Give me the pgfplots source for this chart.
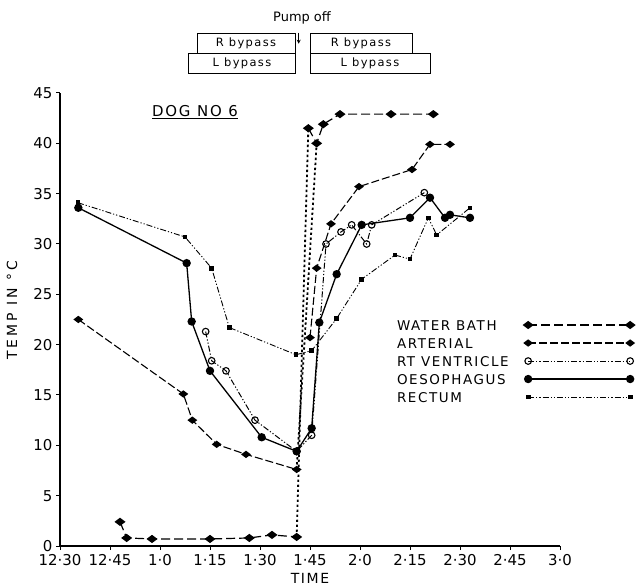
\documentclass[border=0pt]{standalone}
\usepackage{fontspec}
\setmainfont{DejaVu Sans}
\newfontfamily\wide[LetterSpace=12]{DejaVu Sans}
\newfontfamily\wider[LetterSpace=22]{DejaVu Sans}
\usepackage{pgfplots}
\pgfplotsset{compat=1.18}
\pgfplotsset{
  wb/.style={black, line width=1.2bp, dash pattern=on 9bp off 4bp, mark=diamond*, mark size=4.5bp, mark options={solid, rotate=90}},
  art/.style={black, line width=1.1bp, dash pattern=on 8bp off 3bp, mark=diamond*, mark size=4bp, mark options={solid, rotate=90}},
  rv/.style={black, line width=1bp, dash pattern=on 6bp off 2bp on 1.2bp off 2bp on 1.2bp off 2bp, mark=o, mark size=3.3bp, mark options={solid, fill=white, line width=1.1bp}},
  oes/.style={black, line width=1.3bp, mark=*, mark size=3.5bp, mark options={solid}},
  rec/.style={black, line width=0.9bp, dash pattern=on 6bp off 2bp on 1.2bp off 2bp on 1.2bp off 2bp, mark=square*, mark size=1.8bp, mark options={solid}},
  dots/.style={black, line width=1.8bp, dash pattern=on 2.4bp off 2.6bp, mark=none, forget plot},
}
\begin{document}
\begin{tikzpicture}
\begin{axis}[
  scale only axis, width=500bp, height=453bp,
  xmin=0, xmax=150, ymin=0, ymax=45,
  axis lines*=left,
  axis line style={line width=1.3bp, black},
  xtick={0,15,...,150},
  xticklabels={12·30,12·45,1·0,1·15,1·30,1·45,2·0,2·15,2·30,2·45,3·0},
  ytick={0,5,...,45},
  tick align=outside, major tick length=4bp,
  tick style={line width=1bp, black},
  tick label style={font=\fontsize{15}{15}\selectfont},
  x tick label style={yshift=-1bp},
  /pgf/number format/assume math mode=true,
  xlabel={\wide TIME},
  xlabel style={font=\fontsize{14}{14}\selectfont, at={(axis description cs:0.5,-0.0706)}, anchor=center},
  ylabel={\wider TEMP IN °C},
  ylabel style={font=\fontsize{14}{14}\selectfont, at={(axis description cs:-0.096,0.521)}, anchor=center},
  clip=false,
  legend plot pos=right,
  legend cell align=left,
  legend image code/.code={\draw[#1] plot coordinates {(0bp,0bp) (102bp,0bp)};},
  legend style={at={(axis description cs:0.672,0.501)}, anchor=north west, draw=none, fill=none,
    inner sep=0pt, outer sep=0pt, row sep=6bp, column sep=14bp,
    font=\fontsize{13.5}{13.5}\selectfont\wide,
    nodes={inner sep=1bp, text height=10bp, text depth=0bp}},
]
% WATER BATH
\addplot[wb] coordinates {(18,2.4) (20,0.8) (27.6,0.7) (45,0.7) (56.8,0.8) (63.6,1.1) (71,0.9)};
\addlegendentry{WATER BATH}
\addplot[wb, forget plot] coordinates {(74.5,41.5) (77,40.0) (79,41.9) (84,42.9) (99.3,42.9) (112,42.9)};
\addplot[dots] coordinates {(71,0.9) (74.5,41.5)};
% ARTERIAL
\addplot[art] coordinates {(5.5,22.5) (37,15.1) (39.7,12.5) (47,10.1) (55.8,9.1) (71,7.6)};
\addlegendentry{ARTERIAL}
\addplot[art, forget plot] coordinates {(75,20.7) (77,27.6) (81.3,32.0) (89.7,35.7) (105.6,37.4) (111,39.9) (117,39.9)};
\addplot[dots] coordinates {(71,7.6) (77,40.0)};
% RT VENTRICLE
\addplot[rv] coordinates {(43.7,21.3) (45.5,18.4) (49.8,17.4) (58.5,12.5) (71,9.4) (75.5,11.0) (79.8,30.0) (84.3,31.2) (87.5,31.9) (92,30.0) (93.5,31.9) (109.3,35.1)};
\addlegendentry{RT VENTRICLE}
% OESOPHAGUS
\addplot[oes] coordinates {(5.5,33.6) (38,28.1) (39.5,22.3) (45,17.4) (60.5,10.8) (71,9.4) (75.5,11.7) (77.8,22.2) (83,27.0) (90.5,31.9) (105,32.6) (111,34.6) (115.5,32.6) (117,32.9) (123,32.6)};
\addlegendentry{OESOPHAGUS}
% RECTUM
\addplot[rec] coordinates {(5.4,34.1) (37.5,30.7) (45.5,27.6) (50.8,21.7) (70.8,19.0) (75.5,19.4) (83,22.6) (90.5,26.5) (100.5,28.9) (105,28.5) (110.5,32.6) (113,30.9) (123,33.6)};
\addlegendentry{RECTUM}

% title
\node[font=\fontsize{15}{15}\selectfont\wide] at (axis cs:40.5,43.1) {\underline{DOG\ NO\ 6}};
% pump off annotation
\node[font=\fontsize{13}{13}\selectfont] at (axis cs:72.6,52.5) {Pump off};
\draw[line width=0.9bp] (axis cs:41.1,50.9) rectangle (axis cs:70.5,48.96);
\draw[line width=0.9bp] (axis cs:75,50.9) rectangle (axis cs:105.6,48.96);
\draw[line width=0.9bp] (axis cs:38.4,48.96) rectangle (axis cs:70.5,46.97);
\draw[line width=0.9bp] (axis cs:75,48.96) rectangle (axis cs:111,46.97);
\draw[line width=0.8bp, -stealth] (axis cs:71.6,51.0) -- (axis cs:71.6,49.9);
\node[font=\fontsize{11.5}{11.5}\selectfont\wide] at (axis cs:55.8,49.93) {R\ bypass};
\node[font=\fontsize{11.5}{11.5}\selectfont\wide] at (axis cs:90.3,49.93) {R\ bypass};
\node[font=\fontsize{11.5}{11.5}\selectfont\wide] at (axis cs:54.6,47.95) {L\ bypass};
\node[font=\fontsize{11.5}{11.5}\selectfont\wide] at (axis cs:93,47.95) {L\ bypass};
\end{axis}
\pgfresetboundingbox
\path[use as bounding box] ([shift={(-60bp,-42bp)}]current axis.south west) rectangle ([shift={(581bp,546bp)}]current axis.south west);
\end{tikzpicture}
\end{document}
